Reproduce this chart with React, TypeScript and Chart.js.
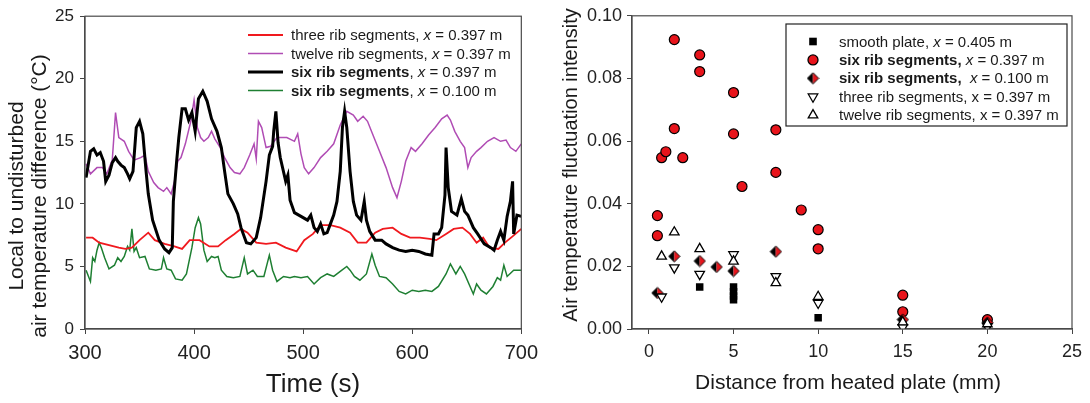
import React, { useEffect, useRef } from "react";
import { Chart, registerables } from "chart.js";
Chart.register(...registerables);

const FONT = "Arial, 'Liberation Sans', sans-serif";

// ---------- Left chart: time series (s, °C) ----------
const sixRib397T = [301,305,308,311,314,317,319,322,325,328,330,333,336,339,341,344,347,350,353,356,358,362,368,373,377,380,381,384,386,389,392,395,398,401,404,408,412,416,421,425,428,431,436,440,443,448,452,457,461,466,469,472,473,475,477,479,484,486,488,492,498,504,507,510,513,516,519,522,525,528,531,534,536,538,540,543,546,549,553,556,558,561,566,572,576,582,588,594,600,606,612,618,620,624,627,630,631,633,636,641,645,648,651,656,660,666,672,675,678,681,684,687,690,692,693,696,700];
const sixRib397V = [12.1,14.2,14.4,13.9,14.1,13.4,11.8,12.3,13.3,13.7,13.4,13.1,12.9,12.4,12.0,12.6,16.1,16.6,15.6,12.6,10.8,8.7,7.1,6.4,6.1,6.5,10.2,13.4,15.3,17.6,17.6,16.7,17.3,15.8,18.4,19.0,18.2,16.8,15.8,14.5,12.6,10.8,10.0,9.2,8.1,6.9,6.8,7.3,8.9,11.8,13.9,14.6,15.8,17.4,14.9,13.7,11.8,12.3,10.3,9.3,9.0,8.7,9.1,8.1,7.8,8.4,7.6,7.7,8.4,9.1,10.2,12.6,16.1,17.4,16.1,12.6,10.2,9.1,8.7,10.2,8.7,7.8,7.1,7.1,6.8,6.5,6.3,6.2,6.3,6.2,6.0,5.9,7.6,7.6,8.1,10.7,14.5,11.3,9.4,9.1,10.4,9.4,9.1,8.1,7.6,6.8,6.5,6.3,7.1,7.8,7.1,9.0,10.2,11.8,7.6,9.1,9.0];

const threeRibT = [301,307,313,322,331,337,343,350,358,364,373,382,389,396,405,414,422,429,437,443,449,457,466,475,484,494,501,509,516,525,534,543,550,558,566,573,582,590,598,607,616,622,631,638,646,653,659,665,671,679,685,692,700];
const threeRibV = [7.3,7.3,6.9,6.7,6.5,6.4,6.5,7.1,7.7,7.1,6.8,6.6,6.4,7.1,7.1,6.6,6.6,7.1,7.6,8.0,7.7,6.9,6.8,6.9,6.5,6.2,7.1,7.6,8.3,8.3,8.1,7.7,6.9,6.9,7.7,8.0,8.1,7.6,7.3,7.3,7.2,7.1,7.6,8.0,8.1,7.6,6.9,7.3,6.5,6.4,6.9,7.4,8.0];

const twelveRibT = [301,305,311,316,320,325,328,331,336,340,345,351,355,358,363,367,372,375,379,382,385,388,392,397,400,403,406,409,413,416,419,424,428,433,437,442,446,451,455,457,459,462,466,470,476,485,492,495,498,501,505,510,516,522,528,534,540,546,550,555,559,564,570,576,582,586,590,594,599,603,609,615,621,627,632,635,639,644,648,651,654,659,663,669,675,681,686,690,695,700];
const twelveRibV = [13.2,12.4,12.9,12.9,12.4,13.5,17.3,15.3,15.0,14.2,13.5,13.7,13.9,12.6,11.7,11.3,11.0,11.3,10.8,11.8,13.4,13.7,14.8,16.6,18.3,16.1,15.3,15.0,15.3,15.8,15.2,14.5,13.7,12.9,12.5,12.4,12.9,13.9,14.8,13.6,16.6,16.1,14.5,14.6,15.3,15.3,15.0,15.6,14.0,12.9,12.4,12.9,13.7,14.2,14.8,16.3,17.4,17.1,16.6,17.0,16.6,15.5,14.2,12.9,11.3,10.5,11.8,13.4,14.5,14.2,14.8,15.5,16.1,16.8,17.1,16.7,15.8,15.0,14.5,12.9,13.7,14.2,14.5,15.0,15.3,15.0,15.1,14.5,14.2,14.8];

const sixRib100T = [301,305,307,309,311,313,315,318,322,327,330,333,336,339,341,343,345,347,350,355,359,365,370,372,375,379,383,389,393,398,401,404,406,409,412,416,419,422,425,430,436,442,446,449,454,458,464,469,472,476,482,488,492,498,504,510,516,522,528,534,540,543,547,552,558,563,566,570,576,582,588,594,600,606,612,618,624,631,635,640,644,648,653,656,659,663,668,674,678,681,684,687,693,700];
const sixRib100V = [4.7,3.8,5.7,5.4,6.3,6.9,6.5,5.7,4.8,5.1,5.7,5.4,5.8,6.6,6.3,8.0,6.2,6.5,5.7,5.8,4.8,4.7,4.8,5.7,4.8,4.7,4.0,3.9,4.4,6.5,8.1,8.9,8.4,6.3,5.4,5.8,5.7,5.8,4.7,4.2,4.1,4.2,5.7,4.4,4.7,4.2,4.2,5.9,4.7,3.8,4.2,4.1,4.2,4.1,4.2,3.6,4.1,4.4,4.2,4.6,5.0,4.7,4.2,3.9,4.4,6.0,5.1,4.2,4.1,3.6,3.0,2.8,3.1,3.0,3.1,3.0,3.4,4.4,5.2,4.4,5.0,4.4,3.4,2.8,3.6,3.1,2.8,3.4,4.1,3.9,5.1,4.2,4.7,4.7];

const leftXTicks = [300, 400, 500, 600, 700];
const leftYTicks = [0, 5, 10, 15, 20, 25];

// ---------- Right chart: scatter (mm, intensity) ----------
const smoothX = [3, 5, 5, 5, 5, 10, 15, 20];
const smoothY = [0.0134, 0.0134, 0.0119, 0.0105, 0.0093, 0.0036, 0.002, 0.0015];
const sixA_X = [0.5, 0.5, 0.75, 1, 1.5, 1.5, 2, 3, 3, 5, 5, 5.5, 7.5, 7.5, 9, 10, 10, 15, 15, 20];
const sixA_Y = [0.0362, 0.0298, 0.0547, 0.0566, 0.0924, 0.064, 0.0547, 0.0875, 0.0822, 0.0755, 0.0623, 0.0455, 0.0636, 0.05, 0.038, 0.0317, 0.0256, 0.0108, 0.0055, 0.003];
const sixB_X = [0.5, 1.5, 3, 4, 5, 7.5, 15, 20];
const sixB_Y = [0.0115, 0.0232, 0.0217, 0.0198, 0.0185, 0.0247, 0.003, 0.002];
const threeX = [0.75, 1.5, 3, 5, 7.5, 10, 15, 20];
const threeY = [0.0103, 0.0196, 0.0175, 0.0238, 0.0168, 0.0083, 0.0005, 0.0008];
const twelveX = [0.75, 1.5, 3, 5, 7.5, 10, 15, 20];
const twelveY = [0.0232, 0.0309, 0.0256, 0.0216, 0.0147, 0.0103, 0.0022, 0.0016];

const rightXTicks = [0, 5, 10, 15, 20, 25];
const rightYTicks = [0, 0.02, 0.04, 0.06, 0.08, 0.1];

// ---------- Text ----------
type Seg = { t: string; s: string };
const leftLegendLabels: Seg[][] = [
  [{ t: "three rib segments, ", s: "" }, { t: "x", s: "italic " }, { t: " = 0.397 m", s: "" }],
  [{ t: "twelve rib segments, ", s: "" }, { t: "x", s: "italic " }, { t: " = 0.397 m", s: "" }],
  [{ t: "six rib segments", s: "bold " }, { t: ", ", s: "" }, { t: "x", s: "italic " }, { t: " = 0.397 m", s: "" }],
  [{ t: "six rib segments", s: "bold " }, { t: ", ", s: "" }, { t: "x", s: "italic " }, { t: " = 0.100 m", s: "" }],
];
const rightLegendLabels: Seg[][] = [
  [{ t: "smooth plate, ", s: "" }, { t: "x", s: "italic " }, { t: " = 0.405 m", s: "" }],
  [{ t: "six rib segments,", s: "bold " }, { t: " ", s: "" }, { t: "x", s: "italic " }, { t: " = 0.397 m", s: "" }],
  [{ t: "six rib segments,", s: "bold " }, { t: "  ", s: "" }, { t: "x", s: "italic " }, { t: " = 0.100 m", s: "" }],
  [{ t: "three rib segments, x = 0.397 m", s: "" }],
  [{ t: "twelve rib segments, x = 0.397 m", s: "" }],
];
const leftYTitle = ["Local to undisturbed", "air temperature difference (°C)"];
const leftXTitle = "Time (s)";
const rightYTitle = "Air temperature fluctuation intensity";
const rightXTitle = "Distance from heated plate (mm)";

const pts = (xs: number[], ys: number[]) => xs.map((x, i) => ({ x, y: ys[i] }));

function drawSegs(ctx: CanvasRenderingContext2D, segs: Seg[], x: number, y: number, size: number) {
  let cx = x;
  for (const sg of segs) {
    ctx.font = `${sg.s}${size}px ${FONT}`;
    ctx.fillText(sg.t, cx, y);
    cx += ctx.measureText(sg.t).width;
  }
}

function makeDiamond(): HTMLCanvasElement {
  const c = document.createElement("canvas");
  const s = 13;
  c.width = s;
  c.height = s;
  const g = c.getContext("2d")!;
  const m = s / 2, r = 5.6;
  g.beginPath();
  g.moveTo(m, m - r);
  g.lineTo(m + r, m);
  g.lineTo(m, m + r);
  g.lineTo(m - r, m);
  g.closePath();
  g.save();
  g.clip();
  g.fillStyle = "#000";
  g.fillRect(0, 0, m, s);
  g.fillStyle = "#e8141b";
  g.fillRect(m, 0, s - m, s);
  g.restore();
  g.lineWidth = 1;
  g.strokeStyle = "#000";
  g.stroke();
  return c;
}

const frame = {
  id: "frame",
  afterDraw(chart: any) {
    const { ctx, chartArea: a } = chart;
    ctx.save();
    ctx.strokeStyle = "#4a4a4a";
    ctx.lineWidth = 1.2;
    ctx.strokeRect(a.left, a.top, a.right - a.left, a.bottom - a.top);
    ctx.restore();
  },
};

function axisCommon(ticksArr: number[], fontSize: number, fit: (s: any) => void, extra: any = {}) {
  return {
    type: "linear",
    afterBuildTicks: (axis: any) => {
      axis.ticks = ticksArr.map((v) => ({ value: v }));
    },
    afterFit: fit,
    grid: { drawOnChartArea: false, drawTicks: true, tickLength: 5, color: "#444", lineWidth: 1 },
    border: { display: true, color: "#4a4a4a", width: 1.2 },
    ticks: { color: "#222", font: { family: FONT, size: fontSize }, padding: 6, ...(extra.ticks || {}) },
    ...extra.rest,
  };
}

function LeftChart() {
  const ref = useRef<HTMLCanvasElement>(null);
  useEffect(() => {
    const legendPlugin = {
      id: "leftText",
      afterDraw(chart: any) {
        const ctx = chart.ctx;
        ctx.save();
        ctx.fillStyle = "#1a1a1a";
        ctx.textBaseline = "middle";
        const ds = chart.data.datasets;
        const legendOrder = [1, 3, 0, 2];
        legendOrder.forEach((di: number, i: number) => {
          const d = ds[di];
          const y = 35 + i * 18.5;
          ctx.strokeStyle = d.borderColor;
          ctx.lineWidth = d.borderWidth;
          ctx.beginPath();
          ctx.moveTo(248, y);
          ctx.lineTo(283, y);
          ctx.stroke();
          drawSegs(ctx, leftLegendLabels[i], 291, y + 1, 15);
        });
        // axis titles
        ctx.textAlign = "center";
        ctx.font = `21px ${FONT}`;
        ctx.save();
        ctx.translate(17, 196);
        ctx.rotate(-Math.PI / 2);
        ctx.fillText(leftYTitle[0], 0, 0);
        ctx.restore();
        ctx.save();
        ctx.translate(40, 196);
        ctx.rotate(-Math.PI / 2);
        ctx.fillText(leftYTitle[1], 0, 0);
        ctx.restore();
        ctx.font = `26px ${FONT}`;
        ctx.fillText(leftXTitle, 313, 385);
        ctx.restore();
      },
    };
    const chart = new Chart(ref.current!, {
      type: "line",
      data: {
        datasets: [
          { data: pts(sixRib397T, sixRib397V), borderColor: "#000000", borderWidth: 3 },
          { data: pts(threeRibT, threeRibV), borderColor: "#f0191e", borderWidth: 1.8 },
          { data: pts(sixRib100T, sixRib100V), borderColor: "#1e7f32", borderWidth: 1.5 },
          { data: pts(twelveRibT, twelveRibV), borderColor: "#b04cb4", borderWidth: 1.5 },
        ] as any,
      },
      options: {
        animation: false,
        responsive: false,
        devicePixelRatio: 1,
        parsing: true,
        elements: { point: { radius: 0 }, line: { tension: 0 } },
        layout: { padding: { left: 0, right: 19, top: 14, bottom: 0 } },
        plugins: { legend: { display: false }, tooltip: { enabled: false } },
        scales: {
          x: axisCommon(leftXTicks, 20, (s: any) => { s.height = 74; }, { rest: { min: 300, max: 700 }, ticks: { padding: 7 } }),
          y: axisCommon(leftYTicks, 17, (s: any) => { s.width = 85; }, { rest: { min: 0, max: 25 } }),
        } as any,
      },
      plugins: [frame, legendPlugin],
    });
    return () => chart.destroy();
  }, []);
  return <canvas ref={ref} width={545} height={403} style={{ position: "absolute", left: 0, top: 0, width: 545, height: 403 }} />;
}

function RightChart() {
  const ref = useRef<HTMLCanvasElement>(null);
  useEffect(() => {
    const diamond = makeDiamond();
    const drawMarker = (ctx: CanvasRenderingContext2D, kind: string, x: number, y: number) => {
      ctx.save();
      ctx.lineWidth = 1.3;
      ctx.strokeStyle = "#000";
      if (kind === "square") {
        ctx.fillStyle = "#000";
        ctx.fillRect(x - 3.8, y - 3.8, 7.6, 7.6);
      } else if (kind === "circle") {
        ctx.fillStyle = "#e8141b";
        ctx.beginPath();
        ctx.arc(x, y, 5, 0, Math.PI * 2);
        ctx.fill();
        ctx.stroke();
      } else if (kind === "diamond") {
        ctx.drawImage(diamond, x - diamond.width / 2, y - diamond.height / 2);
      } else {
        const r = 5.5;
        const dir = kind === "down" ? -1 : 1;
        ctx.fillStyle = "#fff";
        ctx.beginPath();
        ctx.moveTo(x, y - dir * r);
        ctx.lineTo(x + r * 0.866, y + dir * r * 0.5);
        ctx.lineTo(x - r * 0.866, y + dir * r * 0.5);
        ctx.closePath();
        ctx.fill();
        ctx.stroke();
      }
      ctx.restore();
    };
    const kinds = ["square", "circle", "diamond", "down", "up"];
    const textPlugin = {
      id: "rightText",
      afterDraw(chart: any) {
        const ctx = chart.ctx;
        ctx.save();
        // legend box
        ctx.fillStyle = "#fff";
        ctx.fillRect(241, 24, 281, 102);
        ctx.strokeStyle = "#222";
        ctx.lineWidth = 1.2;
        ctx.strokeRect(241, 24, 281, 102);
        ctx.fillStyle = "#1a1a1a";
        ctx.textBaseline = "middle";
        kinds.forEach((k, i) => {
          const y = 41.5 + i * 18.4;
          drawMarker(ctx, k, 268, y);
          ctx.fillStyle = "#1a1a1a";
          drawSegs(ctx, rightLegendLabels[i], 294, y + 1, 15);
        });
        ctx.textAlign = "center";
        ctx.font = `20px ${FONT}`;
        ctx.save();
        ctx.translate(26, 165);
        ctx.rotate(-Math.PI / 2);
        ctx.fillText(rightYTitle, 0, 0);
        ctx.restore();
        ctx.font = `21px ${FONT}`;
        ctx.fillText(rightXTitle, 303, 383);
        ctx.restore();
      },
    };
    const chart = new Chart(ref.current!, {
      type: "scatter",
      data: {
        datasets: [
          { data: pts(smoothX, smoothY), pointStyle: "rect", pointRadius: 5.3, backgroundColor: "#000", borderColor: "#000", borderWidth: 0, order: 5 },
          { data: pts(sixA_X, sixA_Y), pointStyle: "circle", pointRadius: 5, backgroundColor: "#e8141b", borderColor: "#000", borderWidth: 1.2, order: 4 },
          { data: pts(sixB_X, sixB_Y), pointStyle: diamond, pointRadius: 6, backgroundColor: "#e8141b", borderColor: "#000", order: 3 },
          { data: pts(threeX, threeY), pointStyle: "triangle", rotation: 180, pointRadius: 5.5, backgroundColor: "#fff", borderColor: "#000", borderWidth: 1.3, order: 2 },
          { data: pts(twelveX, twelveY), pointStyle: "triangle", pointRadius: 5.5, backgroundColor: "#fff", borderColor: "#000", borderWidth: 1.3, order: 1 },
        ] as any,
      },
      options: {
        animation: false,
        responsive: false,
        devicePixelRatio: 1,
        layout: { padding: { left: 0, right: 18, top: 14, bottom: 0 } },
        plugins: { legend: { display: false }, tooltip: { enabled: false } },
        scales: {
          x: axisCommon(rightXTicks, 18, (s: any) => { s.height = 74; }, { rest: { min: -1, max: 25 }, ticks: { padding: 7 } }),
          y: axisCommon(rightYTicks, 18, (s: any) => { s.width = 87; }, {
            rest: { min: 0, max: 0.1 },
            ticks: { padding: 5, callback: (v: any) => Number(v).toFixed(2) },
          }),
        } as any,
      },
      plugins: [frame, textPlugin],
    });
    return () => chart.destroy();
  }, []);
  return <canvas ref={ref} width={545} height={403} style={{ position: "absolute", left: 545, top: 0, width: 545, height: 403 }} />;
}

export default function App() {
  return (
    <div style={{ position: "absolute", left: 0, top: 0, width: 1090, height: 403, background: "#fff", overflow: "hidden" }}>
      <LeftChart />
      <RightChart />
    </div>
  );
}
